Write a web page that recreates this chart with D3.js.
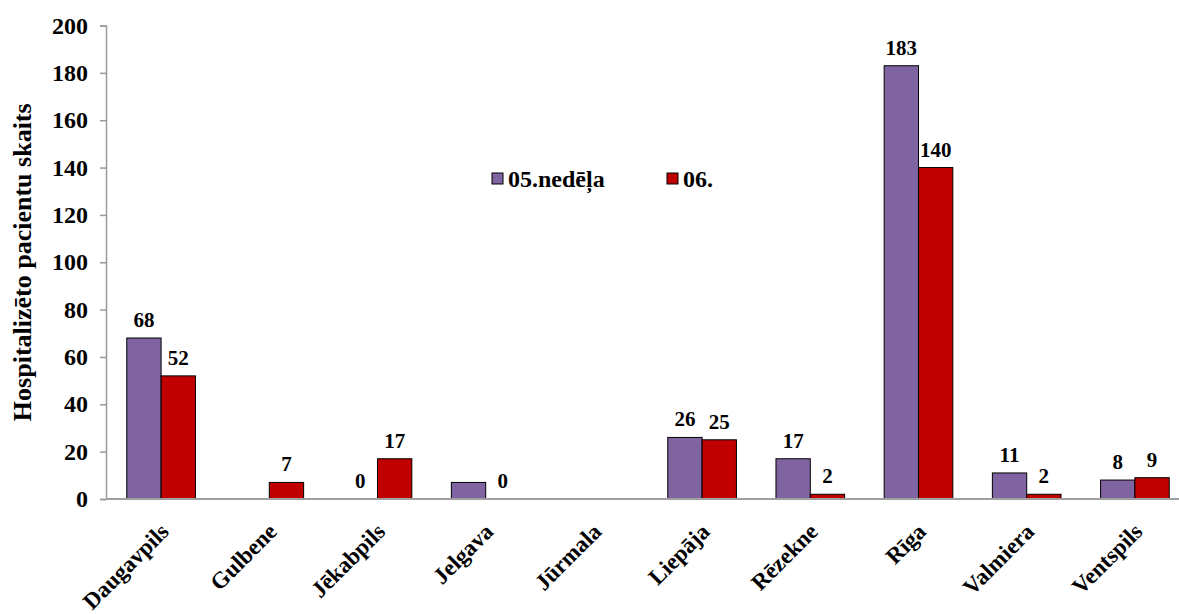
<!DOCTYPE html>
<html>
<head>
<meta charset="utf-8">
<script src="https://cdn.jsdelivr.net/npm/d3@7"></script>
<style>
  body { margin: 0; background: #fff; }
  svg text { font-family: "Liberation Serif", "Times New Roman", Times, "DejaVu Serif", serif; font-weight: 700; fill: #000; }
</style>
</head>
<body>
<div id="chart"></div>
<script>
// Data
var cities = ["Daugavpils", "Gulbene", "Jēkabpils", "Jelgava", "Jūrmala", "Liepāja", "Rēzekne", "Rīga", "Valmiera", "Ventspils"];
var week05 = [68, null, 0, 7, null, 26, 17, 183, 11, 8];
var week06 = [52, 7, 17, 0, null, 25, 2, 140, 2, 9];
var hiddenLabels05 = ["Jelgava"];   // bar drawn but no label in the original
var seriesNames = ["05.nedēļa", "06."];
var yTicks = [0, 20, 40, 60, 80, 100, 120, 140, 160, 180, 200];

var width = 1179, height = 614;
var colors = ["#8064A2", "#C00000"];
var serif = "'Liberation Serif', 'Times New Roman', Times, 'DejaVu Serif', serif";

var svg = d3.select("#chart").append("svg")
    .attr("width", width)
    .attr("height", height);

var x = d3.scaleBand().domain(cities).range([107, 1189]).padding(0);
var x1 = d3.scaleBand().domain(seriesNames).range([0, x.bandwidth()]).paddingInner(0).paddingOuter(0.576);
var y = d3.scaleLinear().domain([0, 200]).range([499, 25.5]);

// y axis
var yAxis = svg.append("g")
    .attr("transform", "translate(106,0)")
    .call(d3.axisLeft(y).tickValues(yTicks).tickSize(6).tickPadding(12));
yAxis.attr("font-family", null).attr("font-size", null);
yAxis.select(".domain").attr("stroke", "#9a9a9a").attr("stroke-width", 1.5);
yAxis.selectAll(".tick line").attr("stroke", "#9a9a9a").attr("stroke-width", 1.5);
yAxis.selectAll(".tick text")
    .style("font-family", serif)
    .style("font-weight", "700")
    .style("font-size", "24px")
    .attr("fill", "#000");

svg.append("text")
    .attr("transform", "translate(31," + ((y(0) + y(200)) / 2) + ") rotate(-90)")
    .attr("text-anchor", "middle")
    .style("font-size", "26px")
    .text("Hospitalizēto pacientu skaits");

// bars
var rows = [];
cities.forEach(function(c, i) {
    rows.push({city: c, s: 0, v: week05[i], show: hiddenLabels05.indexOf(c) < 0});
    rows.push({city: c, s: 1, v: week06[i], show: true});
});
var present = rows.filter(function(d) { return d.v !== null; });

svg.selectAll(".bar")
    .data(present)
  .enter().append("rect")
    .attr("class", "bar")
    .attr("x", function(d) { return x(d.city) + x1(seriesNames[d.s]); })
    .attr("y", function(d) { return y(d.v); })
    .attr("width", x1.bandwidth())
    .attr("height", function(d) { return y(0) - y(d.v); })
    .attr("fill", function(d) { return colors[d.s]; })
    .attr("stroke", "#000")
    .attr("stroke-width", 1);

// baseline
svg.append("line")
    .attr("x1", 106).attr("x2", width)
    .attr("y1", y(0)).attr("y2", y(0))
    .attr("stroke", "#a0a0a0")
    .attr("stroke-width", 2);

// value labels
svg.selectAll(".val")
    .data(present.filter(function(d) { return d.show; }))
  .enter().append("text")
    .attr("class", "val")
    .attr("x", function(d) { return x(d.city) + x1(seriesNames[d.s]) + x1.bandwidth() / 2; })
    .attr("y", function(d) { return y(d.v) - 11; })
    .attr("text-anchor", "middle")
    .style("font-size", "21px")
    .text(function(d) { return d.v; });

// x labels
svg.selectAll(".xl")
    .data(cities)
  .enter().append("text")
    .attr("class", "xl")
    .attr("transform", function(d) { return "translate(" + (x(d) + x.bandwidth() / 2 + 9) + ",533) rotate(-45)"; })
    .attr("text-anchor", "end")
    .style("font-size", "23px")
    .text(function(d) { return d; });

// legend
var legendX = [492, 667];
var legend = svg.selectAll(".lg")
    .data(seriesNames)
  .enter().append("g")
    .attr("transform", function(d, i) { return "translate(" + legendX[i] + ",173)"; });
legend.append("rect")
    .attr("width", 11).attr("height", 11)
    .attr("fill", function(d, i) { return colors[i]; })
    .attr("stroke", "#000").attr("stroke-width", 1);
legend.append("text")
    .attr("x", 16).attr("y", 14)
    .style("font-size", "24px")
    .text(function(d) { return d; });
</script>
</body>
</html>
